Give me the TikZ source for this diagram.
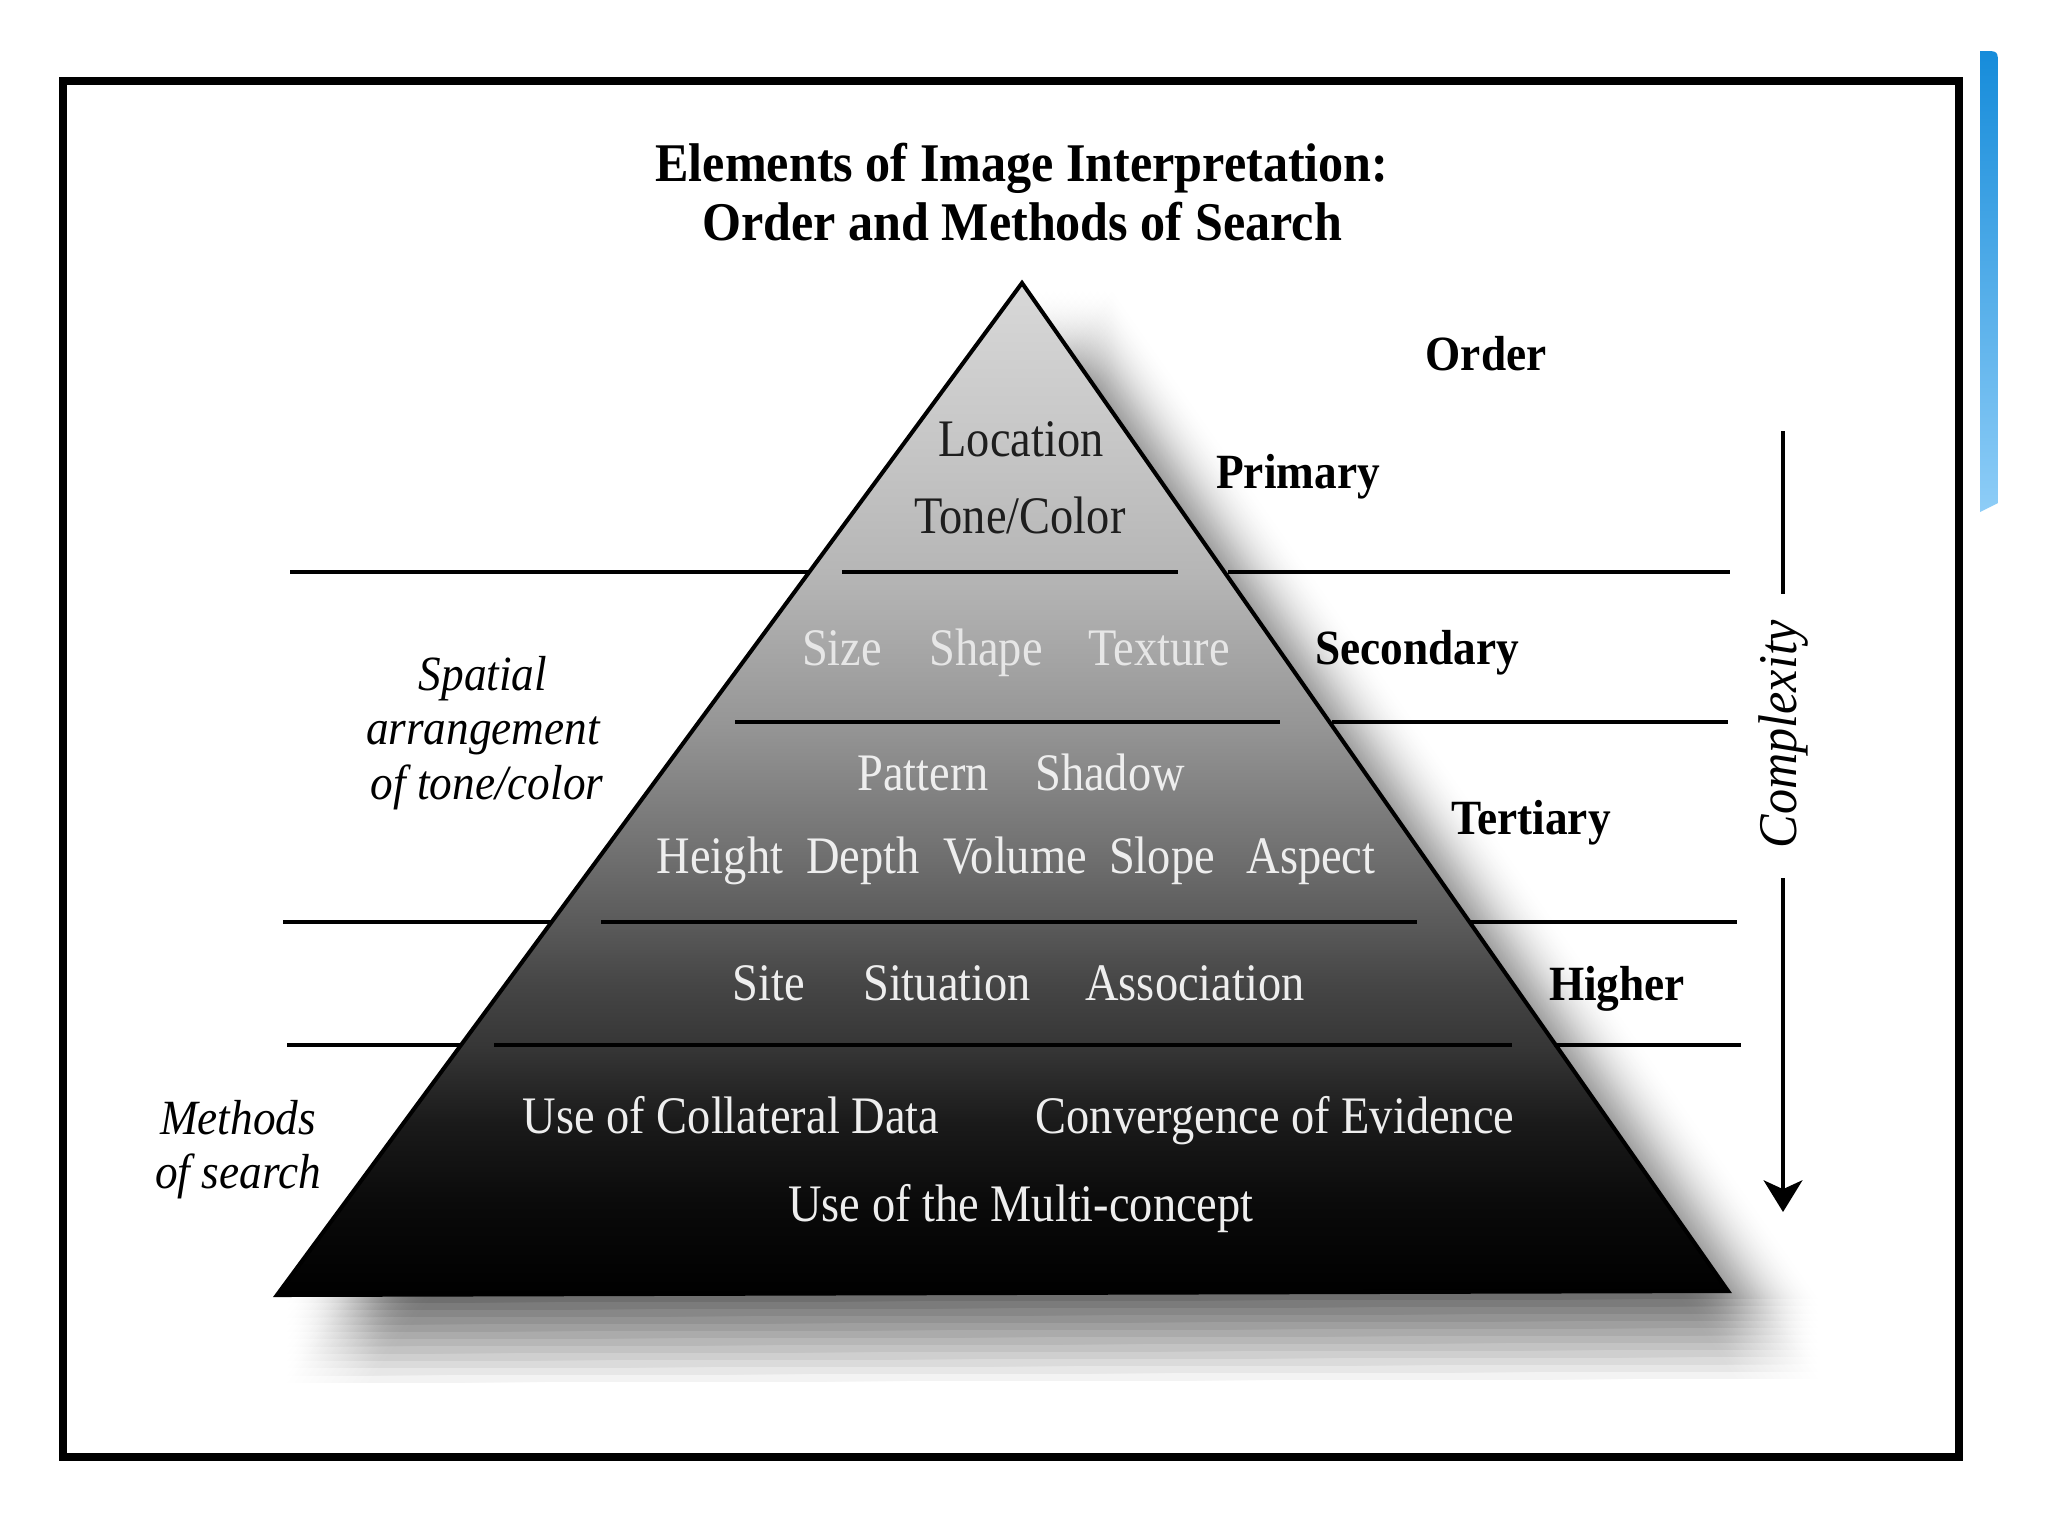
\documentclass[tikz,border=0pt]{standalone}
\usepackage{fontspec}
\setmainfont{Liberation Serif}[FakeStretch=0.92]
\newfontfamily\condfont{Liberation Serif}[FakeStretch=0.88]
\usetikzlibrary{arrows.meta}
\definecolor{pgA}{HTML}{000000}
\definecolor{pgB}{HTML}{0A0A0A}
\definecolor{pgC}{HTML}{1A1A1A}
\definecolor{pgD}{HTML}{363636}
\definecolor{pgE}{HTML}{454545}
\definecolor{pgF}{HTML}{5A5A5A}
\definecolor{pgG}{HTML}{6E6E6E}
\definecolor{pgH}{HTML}{969696}
\definecolor{pgI}{HTML}{A6A6A6}
\definecolor{pgJ}{HTML}{B6B6B6}
\definecolor{pgK}{HTML}{C6C6C6}
\definecolor{pgL}{HTML}{D8D8D8}
\definecolor{blueTop}{HTML}{168CDA}
\definecolor{blueBot}{HTML}{8ECDF7}
\definecolor{darktext}{HTML}{1E1E1E}
\definecolor{lighttext}{HTML}{E6E6E6}
\definecolor{whitetext}{HTML}{EEEEEE}
\pgfdeclareverticalshading{pyrshade}{100bp}{%
 color(0bp)=(pgA); color(25bp)=(pgA); color(29.5bp)=(pgB); color(33.5bp)=(pgC);
 color(37.25bp)=(pgD); color(40.25bp)=(pgE); color(43.35bp)=(pgF); color(46.5bp)=(pgG);
 color(53.25bp)=(pgH); color(56.8bp)=(pgI); color(60.7bp)=(pgJ); color(67bp)=(pgK);
 color(75bp)=(pgL); color(100bp)=(pgL)}
\tikzset{
 ttl/.style={font=\fontsize{15.5}{18}\selectfont\bfseries, anchor=base},
 ordlab/.style={font=\fontsize{14}{16}\selectfont\bfseries, anchor=base},
 intxt/.style={font=\condfont\fontsize{15}{17}\selectfont, anchor=base, text=whitetext, inner sep=0pt},
 sidelab/.style={font=\fontsize{14}{16}\selectfont\itshape, anchor=base, inner sep=0pt},
 sepline/.style={line width=1.4pt},
 inline/.style={line width=1.2pt},
}
\begin{document}
\begin{tikzpicture}[x=0.01cm,y=-0.01cm]
\useasboundingbox (0,0) rectangle (2048,1536);
\fill[white] (0,0) rectangle (2048,1536);
% frame
\draw[line width=2.3pt] (63,81) rectangle (1959,1457);
% blue bar
\shade[top color=blueTop, bottom color=blueBot] (1980,512) -- (1980,51) -- (1984,51) .. controls (1998,51) .. (1998,66) -- (1998,503) -- cycle;
% soft shadow (box blur of offset copies)
\foreach \i in {0,...,11}{
  \foreach \j in {0,...,11}{
    \fill[black, opacity=0.00392, shift={(10+\i*7.27,8+\j*7.27)}]
      (1022,283) -- (1728,1291) -- (277,1295) -- cycle;
  }
}
% pyramid
\coordinate (apex) at (1022,283);
\coordinate (bl) at (277,1295);
\coordinate (br) at (1728,1291);
\shade[shading=pyrshade] (apex) -- (br) -- (bl) -- cycle;
\draw[line width=1.15pt, line join=miter] (apex) -- (br) -- (bl) -- cycle;
% level lines
\draw[sepline] (290,572) -- (809,572);
\draw[inline] (842,572) -- (1178,572);
\draw[sepline] (1228,572) -- (1730,572);
\draw[inline] (735,722) -- (1280,722);
\draw[sepline] (1332,722) -- (1728,722);
\draw[sepline] (283,922) -- (551,922);
\draw[inline] (601,922) -- (1417,922);
\draw[sepline] (1469,922) -- (1737,922);
\draw[sepline] (287,1045) -- (461,1045);
\draw[inline] (494,1045) -- (1512,1045);
\draw[sepline] (1554,1045) -- (1741,1045);
% title
\node[ttl] (t1) at (1022,181) {Elements of Image Interpretation:};
\node[ttl] (t2) at (1022,240) {Order and Methods of Search};
% order labels
\node[ordlab] (order) at (1486,370) {Order};
\node[ordlab] (prim) at (1298,488) {Primary};
\node[ordlab] (sec) at (1417,664) {Secondary};
\node[ordlab] (ter) at (1531,834) {Tertiary};
\node[ordlab] (hig) at (1617,1000) {Higher};
% inside texts
\node[intxt, text=darktext] (loc) at (1021,456) {Location};
\node[intxt, text=darktext] (tone) at (1020,533) {Tone/Color};
\node[intxt, text=lighttext] (size) at (842,665) {Size};
\node[intxt, text=lighttext] (shape) at (986,665) {Shape};
\node[intxt, text=lighttext] (texture) at (1159,665) {Texture};
\node[intxt] (pattern) at (923,790) {Pattern};
\node[intxt] (shadow) at (1110,790) {Shadow};
\node[intxt] (height) at (720,873) {Height};
\node[intxt] (depth) at (863,873) {Depth};
\node[intxt] (volume) at (1015,873) {Volume};
\node[intxt] (slope) at (1162,873) {Slope};
\node[intxt] (aspect) at (1311,873) {Aspect};
\node[intxt] (site) at (769,1000) {Site};
\node[intxt] (situation) at (947,1000) {Situation};
\node[intxt] (assoc) at (1195,1000) {Association};
\node[intxt] (collat) at (731,1133) {Use of Collateral Data};
\node[intxt] (conv) at (1275,1133) {Convergence of Evidence};
\node[intxt] (multi) at (1021,1221) {Use of the Multi-concept};
% side labels
\node[sidelab] (sp1) at (483,690) {Spatial};
\node[sidelab] (sp2) at (483,744) {arrangement};
\node[sidelab] (sp3) at (487,799) {of tone/color};
\node[sidelab] (me1) at (238,1134) {Methods};
\node[sidelab] (me2) at (238,1188) {of search};
% complexity
\node[font=\fontsize{15.5}{17}\selectfont\itshape, rotate=90, inner sep=0pt] (cplx) at (1783,734) {Complexity};
\coordinate (ctop) at (1783,431);
\coordinate (cbot) at (1783,1212);
\draw[line width=1.15pt] (ctop) -- (1783,594);
\draw[line width=1.15pt, -{Stealth[length=9pt,width=11pt,inset=2.5pt]}] (1783,878) -- (cbot);
\end{tikzpicture}
\end{document}
